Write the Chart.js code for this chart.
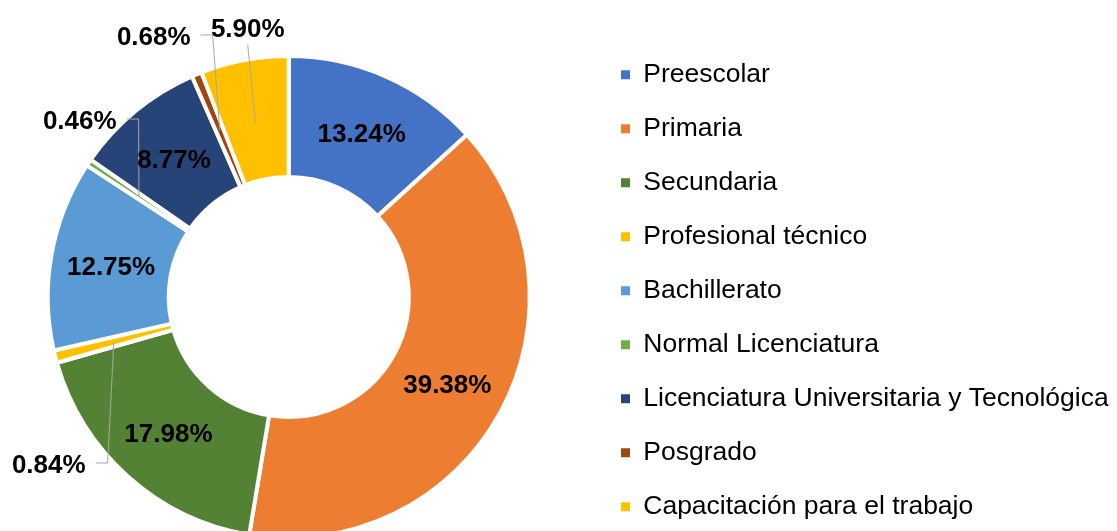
<!DOCTYPE html>
<html>
<head>
<meta charset="utf-8">
<script src="https://cdn.jsdelivr.net/npm/chart.js@4.4.1/dist/chart.umd.min.js"></script>
<style>
  html, body { margin: 0; padding: 0; background: #fff; overflow: hidden; width: 1117px; height: 531px; }
  #wrap { position: absolute; left: -16px; top: 0; }
  canvas { display: block; }
</style>
</head>
<body>
<div id="wrap"><canvas id="c" width="1150" height="560"></canvas></div>
<script>
const categories = [
  'Preescolar',
  'Primaria',
  'Secundaria',
  'Profesional técnico',
  'Bachillerato',
  'Normal Licenciatura',
  'Licenciatura Universitaria y Tecnológica',
  'Posgrado',
  'Capacitación para el trabajo'
];
const values = [13.24, 39.38, 17.98, 0.84, 12.75, 0.46, 8.77, 0.68, 5.90];
const valueLabels = values.map(v => v.toFixed(2) + '%');
const colors = ['#4472C4', '#ED7D31', '#548235', '#FFC000', '#5B9BD5', '#70AD47', '#264478', '#9E480E', '#FFC000'];

// placement of labels that sit outside the ring (angle clockwise from top, distance as share of outer radius)
const callouts = {
  3: { angle: 234.85, dist: 1.218, leader: 'elbow' },
  5: { angle: 309.94, dist: 1.131, leader: 'elbow' },
  7: { angle: 332.47, dist: 1.212, leader: 'elbow' },
  8: { angle: 351.27, dist: 1.121, leader: 'below' }
};

const FONT = '"Liberation Sans", Arial, sans-serif';
Chart.defaults.font.family = FONT;

const labelPlugin = {
  id: 'sliceLabels',
  afterDatasetsDraw(chart) {
    const ctx = chart.ctx;
    const meta = chart.getDatasetMeta(0);
    ctx.save();
    ctx.font = 'bold 26px ' + FONT;
    ctx.textAlign = 'center';
    ctx.textBaseline = 'middle';
    const texts = [];
    meta.data.forEach((arc, i) => {
      const text = valueLabels[i];
      const p = arc.getProps(['x', 'y', 'startAngle', 'endAngle', 'innerRadius', 'outerRadius'], true);
      const mid = (p.startAngle + p.endAngle) / 2;
      const midR = (p.innerRadius + p.outerRadius) / 2;
      const ax = p.x + Math.cos(mid) * midR;
      const ay = p.y + Math.sin(mid) * midR;
      const c = callouts[i];
      if (!c) { texts.push([text, ax, ay + 3]); return; }
      const a = (c.angle - 90) * Math.PI / 180;
      const lx = p.x + Math.cos(a) * c.dist * p.outerRadius;
      const ly = p.y + Math.sin(a) * c.dist * p.outerRadius;
      const w = ctx.measureText(text).width;
      ctx.beginPath();
      if (c.leader === 'below') {
        ctx.moveTo(lx, ly + 15);
        ctx.lineTo(ax, ay + 3);
      } else {
        const sx = lx + w / 2 + 10;
        ctx.moveTo(sx, ly - 3);
        ctx.lineTo(sx + 12, ly - 3);
        ctx.lineTo(ax, ay);
      }
      ctx.strokeStyle = '#A6A6A6';
      ctx.lineWidth = 1;
      ctx.stroke();
      texts.push([text, lx, ly]);
    });
    ctx.fillStyle = '#000';
    texts.forEach(t => ctx.fillText(t[0], t[1], t[2]));
    ctx.restore();
  }
};

new Chart(document.getElementById('c'), {
  type: 'doughnut',
  data: {
    labels: categories,
    datasets: [{
      data: values,
      backgroundColor: colors,
      borderColor: '#FFFFFF',
      borderWidth: 4,
      hoverOffset: 0
    }]
  },
  options: {
    responsive: false,
    animation: false,
    events: [],
    radius: 241,
    cutout: '49.8%',
    layout: { padding: { left: 0, top: 34, right: 25.5, bottom: 0 } },
    plugins: {
      tooltip: { enabled: false },
      legend: {
        position: 'right',
        align: 'start',
        maxWidth: 515,
        labels: {
          boxWidth: 9,
          boxHeight: 9,
          padding: 27.5,
          color: '#000',
          font: { size: 26.5, family: FONT },
          generateLabels(chart) {
            const base = Chart.overrides.doughnut.plugins.legend.labels.generateLabels(chart);
            return base.map(l => Object.assign(l, { lineWidth: 0, strokeStyle: 'rgba(0,0,0,0)' }));
          }
        }
      }
    }
  },
  plugins: [labelPlugin]
});
</script>
</body>
</html>
